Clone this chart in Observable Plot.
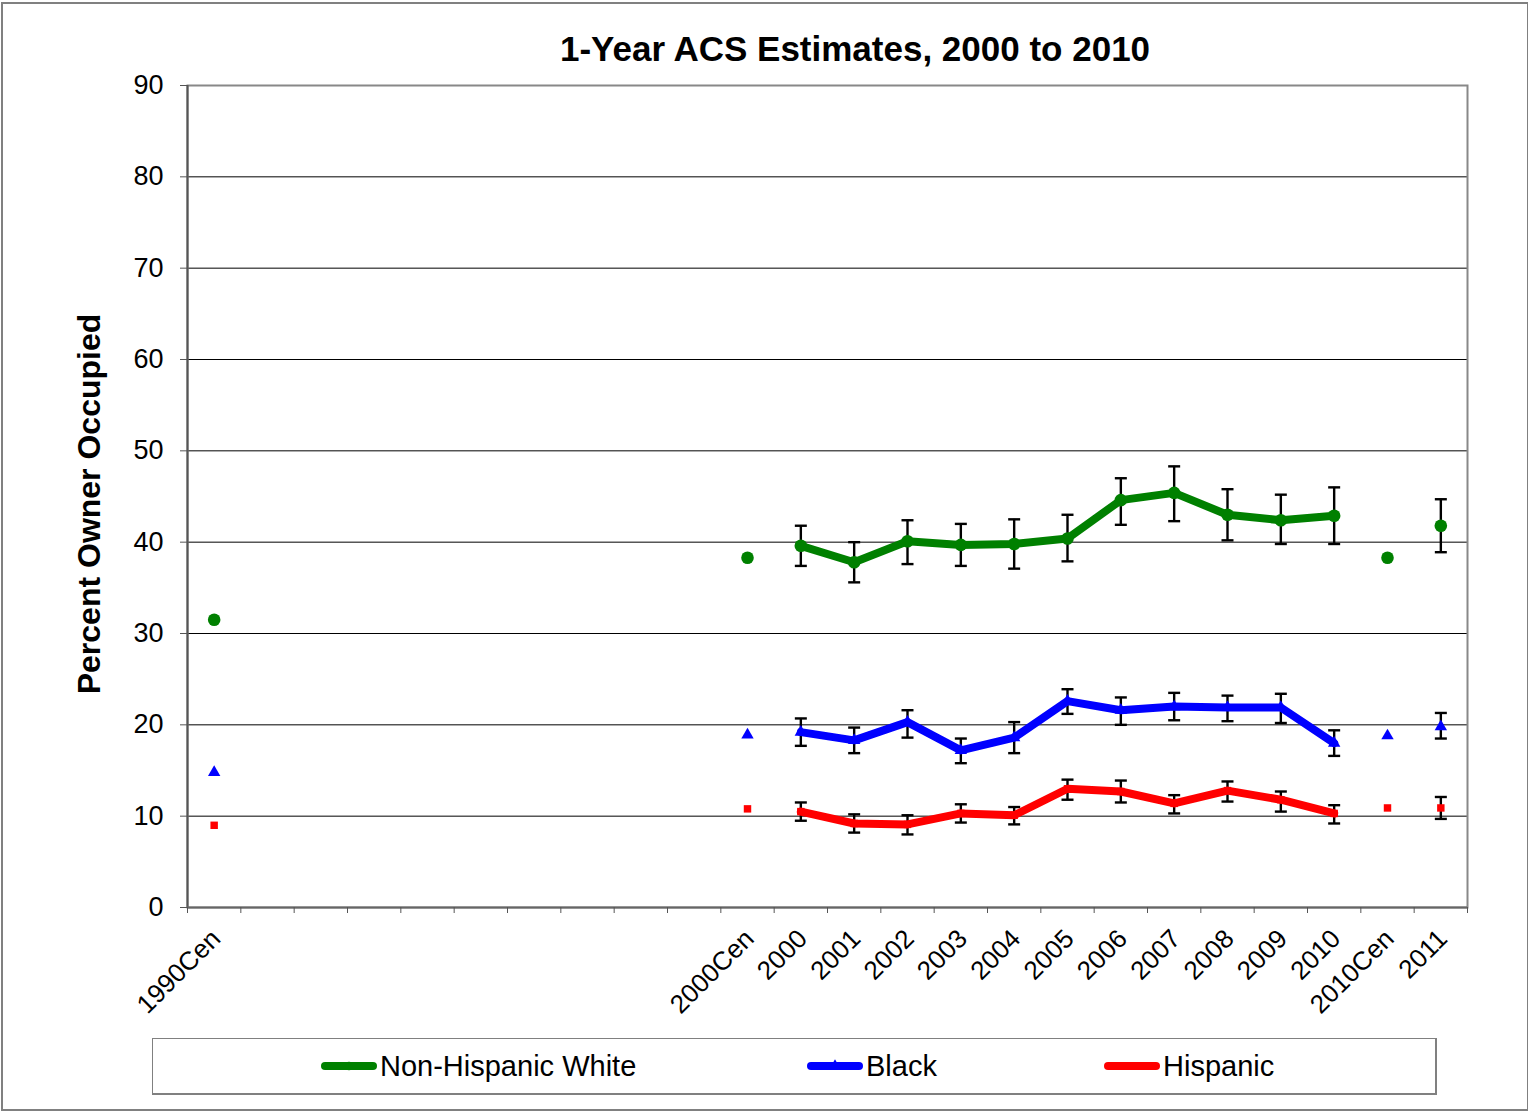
<!DOCTYPE html>
<html>
<head>
<meta charset="utf-8">
<script src="https://cdn.jsdelivr.net/npm/d3@7"></script>
<script src="https://cdn.jsdelivr.net/npm/@observablehq/plot@0.6"></script>
<style>
  html, body { margin: 0; padding: 0; background: #fff; }
  body { font-family: "Liberation Sans", Arial, sans-serif; }
  #wrap { position: relative; width: 1528px; height: 1111px; overflow: hidden; }
  #border { position: absolute; left: 1px; top: 2px; width: 1524px; height: 1105px; border: 2px solid #808080; }
  #title { position: absolute; left: 855px; top: 31px; transform: translateX(-50%); font-size: 35px; font-weight: bold; line-height: 1; white-space: nowrap; color: #000; }
  #ylabel { position: absolute; left: 89px; top: 504px; transform: translate(-50%, -50%) rotate(-90deg); font-size: 32px; font-weight: bold; line-height: 1; white-space: nowrap; color: #000; }
  #chart { position: absolute; left: 0; top: 0; }
  #legend { position: absolute; left: 152px; top: 1038px; width: 1282px; height: 54px; border: 1px solid #808080; border-right-width: 2px; border-bottom-width: 2px; }
  .item { position: absolute; top: 0; height: 54px; display: flex; align-items: center; font-size: 29px; color: #000; white-space: nowrap; }
  .item svg { display: block; margin-right: 3px; }
</style>
</head>
<body>
<div id="wrap">
  <div id="border"></div>
  <div id="chart"></div>
  <div id="title">1-Year ACS Estimates, 2000 to 2010</div>
  <div id="ylabel">Percent Owner Occupied</div>
  <div id="legend"></div>
</div>
<script>
// ---- Data ----
const categories = ["1990Cen", "", "", "", "", "", "", "", "", "", "2000Cen",
  "2000", "2001", "2002", "2003", "2004", "2005", "2006", "2007", "2008", "2009", "2010",
  "2010Cen", "2011"];
const acsYears = ["2000", "2001", "2002", "2003", "2004", "2005", "2006", "2007", "2008", "2009", "2010"];
const seriesNames = ["Non-Hispanic White", "Black", "Hispanic"];
const seriesColors = ["#008000", "#0000ff", "#ff0000"];
const N = null;

const whiteValues = [31.5, N, N, N, N, N, N, N, N, N, 38.3,
  39.6, 37.8, 40.1, 39.7, 39.8, 40.4, 44.6, 45.4, 43.0, 42.4, 42.9, 38.3, 41.8];
const whiteHigh = [N, N, N, N, N, N, N, N, N, N, N,
  41.8, 40.0, 42.4, 42.0, 42.5, 43.0, 47.0, 48.3, 45.8, 45.2, 46.0, N, 44.7];
const whiteLow = [N, N, N, N, N, N, N, N, N, N, N,
  37.4, 35.6, 37.6, 37.4, 37.1, 37.9, 41.9, 42.3, 40.2, 39.8, 39.8, N, 38.9];

const blackValues = [14.8, N, N, N, N, N, N, N, N, N, 18.9,
  19.2, 18.3, 20.3, 17.2, 18.6, 22.6, 21.6, 22.0, 21.9, 21.9, 18.0, 18.8, 19.8];
const blackHigh = [N, N, N, N, N, N, N, N, N, N, N,
  20.7, 19.7, 21.6, 18.5, 20.3, 23.9, 23.0, 23.5, 23.2, 23.4, 19.4, N, 21.3];
const blackLow = [N, N, N, N, N, N, N, N, N, N, N,
  17.7, 16.9, 18.6, 15.8, 16.9, 21.2, 20.0, 20.5, 20.4, 20.2, 16.6, N, 18.5];

const hispValues = [9.0, N, N, N, N, N, N, N, N, N, 10.8,
  10.5, 9.2, 9.1, 10.3, 10.1, 13.0, 12.7, 11.4, 12.8, 11.8, 10.3, 10.9, 10.9];
const hispHigh = [N, N, N, N, N, N, N, N, N, N, N,
  11.5, 10.2, 10.1, 11.3, 11.0, 14.0, 13.9, 12.3, 13.8, 12.7, 11.2, N, 12.1];
const hispLow = [N, N, N, N, N, N, N, N, N, N, N,
  9.5, 8.2, 8.0, 9.3, 9.1, 11.8, 11.5, 10.3, 11.6, 10.5, 9.2, N, 9.7];

const yTicks = [0, 10, 20, 30, 40, 50, 60, 70, 80, 90];

// ---- Build table ----
const seriesData = [
  [whiteValues, whiteHigh, whiteLow],
  [blackValues, blackHigh, blackLow],
  [hispValues, hispHigh, hispLow]
];
const rows = [];
seriesData.forEach(([vals, hi, lo], s) => {
  vals.forEach((v, i) => {
    if (v == null) return;
    rows.push({
      series: seriesNames[s], s, slot: i + 0.5, label: categories[i], value: v,
      hi: hi[i], lo: lo[i], acs: acsYears.includes(categories[i])
    });
  });
});
const lineRows = rows.filter(d => d.acs);
const errRows = rows.filter(d => d.hi != null);

const capSymbol = { draw(ctx) { ctx.moveTo(-6, 0); ctx.lineTo(6, 0); } };

const chart = Plot.plot({
  width: 1528,
  height: 1030,
  marginLeft: 187,
  marginRight: 61,
  marginTop: 85,
  marginBottom: 123,
  style: { fontFamily: "'Liberation Sans', Arial, sans-serif", background: "transparent", color: "#000", overflow: "visible" },
  x: { domain: [0, categories.length], axis: null },
  y: { domain: [0, 90], axis: null },
  marks: [
    Plot.gridY(yTicks.slice(1, -1), { stroke: "#000", strokeOpacity: 1, strokeWidth: 1 }),
    Plot.frame({ stroke: "#888", strokeWidth: 2 }),
    // y axis
    Plot.axisY(yTicks, { tickSize: 7, tickPadding: 17, fontSize: 27, stroke: "#555", label: null }),
    Plot.ruleX([0], { stroke: "#555", strokeWidth: 2 }),
    Plot.ruleY([0], { stroke: "#666", strokeWidth: 2 }),
    // x axis tick marks at slot boundaries
    Plot.axisX(d3.range(0, categories.length + 1), { tickSize: 6, tickFormat: () => "", stroke: "#555", label: null }),
    // x axis labels at slot centers
    Plot.axisX(d3.range(0, categories.length).map(i => i + 0.5), {
      tickSize: 0, tickPadding: 27, tickRotate: -45, fontSize: 26, dx: 2,
      tickFormat: t => categories[Math.floor(t)], label: null
    }),
    // error bars
    Plot.ruleX(errRows, { x: "slot", y1: "lo", y2: "hi", stroke: "#000", strokeWidth: 2.4 }),
    Plot.dot(errRows, { x: "slot", y: "hi", symbol: () => capSymbol, stroke: "#000", strokeWidth: 2.4, fill: "none" }),
    Plot.dot(errRows, { x: "slot", y: "lo", symbol: () => capSymbol, stroke: "#000", strokeWidth: 2.4, fill: "none" }),
    // lines, one per series
    ...seriesNames.map((name, s) =>
      Plot.line(lineRows.filter(d => d.s === s), { x: "slot", y: "value", stroke: seriesColors[s], strokeWidth: 8, strokeLinejoin: "round", strokeLinecap: "round" })
    ),
    // markers
    Plot.dot(rows.filter(d => d.s === 0), { x: "slot", y: "value", fill: seriesColors[0], r: 6.3, stroke: "none" }),
    Plot.dot(rows.filter(d => d.s === 1), { x: "slot", y: "value", fill: seriesColors[1], symbol: "triangle", r: 4.6, stroke: "none" }),
    Plot.dot(rows.filter(d => d.s === 2), { x: "slot", y: "value", fill: seriesColors[2], symbol: "square", r: 4.2, stroke: "none" })
  ]
});
document.getElementById("chart").appendChild(chart);

// ---- Legend ----
const legendLeft = [168, 654, 951];
const legend = document.getElementById("legend");
seriesNames.forEach((name, s) => {
  const item = document.createElement("div");
  item.className = "item";
  item.style.left = legendLeft[s] + "px";
  const ns = "http://www.w3.org/2000/svg";
  const svg = document.createElementNS(ns, "svg");
  svg.setAttribute("width", 56); svg.setAttribute("height", 14);
  const line = document.createElementNS(ns, "line");
  line.setAttribute("x1", 4); line.setAttribute("x2", 52); line.setAttribute("y1", 7); line.setAttribute("y2", 7);
  line.setAttribute("stroke", seriesColors[s]); line.setAttribute("stroke-width", 8); line.setAttribute("stroke-linecap", "round");
  svg.appendChild(line);
  const sym = document.createElementNS(ns, "path");
  sym.setAttribute("transform", "translate(28,7)");
  sym.setAttribute("d", d3.symbol(s === 0 ? d3.symbolCircle : s === 1 ? d3.symbolTriangle : d3.symbolSquare, 60)());
  sym.setAttribute("fill", seriesColors[s]);
  svg.appendChild(sym);
  item.appendChild(svg);
  const span = document.createElement("span");
  span.textContent = name;
  item.appendChild(span);
  legend.appendChild(item);
});
</script>
</body>
</html>
